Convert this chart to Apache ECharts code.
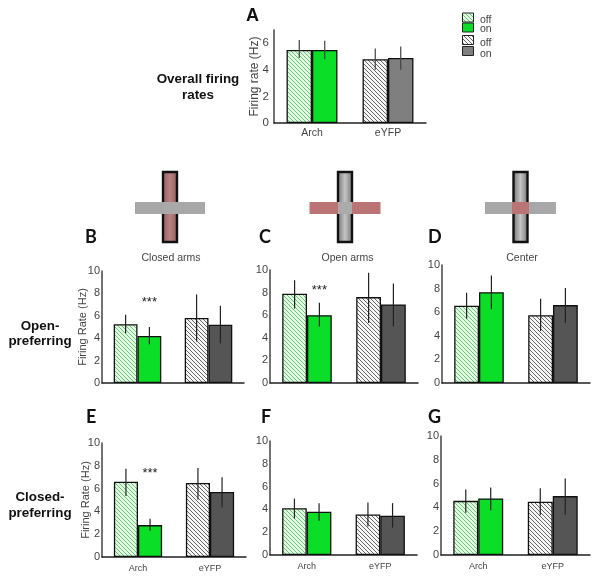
<!DOCTYPE html>
<html><head><meta charset="utf-8">
<style>html,body{margin:0;padding:0;background:#fff}#c{width:600px;height:581px}</style>
<script src="https://cdn.jsdelivr.net/npm/echarts@6/dist/echarts.min.js"></script>
</head><body><div id="c"></div>
<script>
const categories = ['Arch', 'eYFP'];
const yTicksA = [0, 2, 4, 6];
const yTicks = [0, 2, 4, 6, 8, 10];
// [Arch, eYFP] means and error ends, off/on
const A_off = [5.5, 4.8],  A_on = [5.5, 4.9];
const A_off_low = [4.9, 4.0], A_off_high = [6.25, 5.6];
const A_on_low = [4.8, 4.0],  A_on_high = [6.2, 5.75];
const B_off = [5.25, 5.8], B_on = [4.2, 5.2];
const B_off_low = [4.45, 3.7], B_off_high = [6.1, 7.9];
const B_on_low = [3.45, 3.55], B_on_high = [5.0, 6.9];
const C_off = [7.9, 7.6], C_on = [6.0, 6.95];
const C_off_low = [6.6, 5.3], C_off_high = [9.1, 9.75];
const C_on_low = [5.0, 5.0],  C_on_high = [7.1, 8.8];
const D_off = [6.55, 5.75], D_on = [7.7, 6.6];
const D_off_low = [5.45, 4.4], D_off_high = [7.65, 7.15];
const D_on_low = [6.25, 5.1],  D_on_high = [9.1, 8.05];
const E_off = [6.6, 6.5], E_on = [2.8, 5.7];
const E_off_low = [5.35, 5.05], E_off_high = [7.75, 7.8];
const E_on_low = [2.3, 4.35],   E_on_high = [3.35, 7.0];
const F_off = [4.1, 3.55], F_on = [3.8, 3.45];
const F_off_low = [3.2, 2.5], F_off_high = [4.95, 4.6];
const F_on_low = [3.0, 2.4],  F_on_high = [4.55, 4.55];
const G_off = [4.55, 4.47], G_on = [4.75, 4.95];
const G_off_low = [3.55, 3.35], G_off_high = [5.5, 5.6];
const G_on_low = [3.76, 3.4],   G_on_high = [5.67, 6.43];
const B_star = 7.2, C_star = 8.15, E_star = 7.35;

const GREEN = '#0ade27', DARK = '#555555', MID = '#7f7f7f';
const FONT = '"Liberation Sans", Arial, sans-serif';
const HEAD = 'Lato, sans-serif';

function hatch(bg, line) {
  const s = 4, cv = document.createElement('canvas');
  cv.width = s; cv.height = s;
  const g = cv.getContext('2d');
  g.fillStyle = bg; g.fillRect(0, 0, s, s);
  g.strokeStyle = line; g.lineWidth = 1;
  g.beginPath();
  g.moveTo(-1, -1); g.lineTo(s + 1, s + 1);
  g.moveTo(-1, s - 1); g.lineTo(1, s + 1);
  g.moveTo(s - 1, -1); g.lineTo(s + 1, 1);
  g.stroke();
  return { image: cv, repeat: 'repeat' };
}
const HG = hatch('#e2fae2', '#6cc47a');
const HK = hatch('#f6f6f6', '#666666');

const panels = [
  { g:[274,30,152,93],  max:7,  ticks:yTicksA, off:A_off, on:A_on, ol:A_off_low, oh:A_off_high, nl:A_on_low, nh:A_on_high, name:'Firing rate (Hz)', gap:19, x:10.5, lab:11.5, mg:5, dark:MID, err:'#444' },
  { g:[102,271,142,112], max:10, ticks:yTicks, off:B_off, on:B_on, ol:B_off_low, oh:B_off_high, nl:B_on_low, nh:B_on_high, name:'Firing Rate (Hz)', gap:19, x:0, star:B_star },
  { g:[270,270,148,113], max:10, ticks:yTicks, off:C_off, on:C_on, ol:C_off_low, oh:C_off_high, nl:C_on_low, nh:C_on_high, name:'', x:0, star:C_star },
  { g:[442,265,148,118], max:10, ticks:yTicks, off:D_off, on:D_on, ol:D_off_low, oh:D_off_high, nl:D_on_low, nh:D_on_high, name:'', x:0 },
  { g:[102,443,144,114], max:10, ticks:yTicks, off:E_off, on:E_on, ol:E_off_low, oh:E_off_high, nl:E_on_low, nh:E_on_high, name:'Firing Rate (Hz)', gap:16, x:9, star:E_star },
  { g:[270,441,147,114], max:10, ticks:yTicks, off:F_off, on:F_on, ol:F_off_low, oh:F_off_high, nl:F_on_low, nh:F_on_high, name:'', x:9 },
  { g:[441,436,149,119], max:10, ticks:yTicks, off:G_off, on:G_on, ol:G_off_low, oh:G_off_high, nl:G_on_low, nh:G_on_high, name:'', x:9 }
];

const grid = [], xAxis = [], yAxis = [], series = [];
panels.forEach((p, i) => {
  grid.push({ left:p.g[0], top:p.g[1], width:p.g[2], height:p.g[3] });
  xAxis.push({ type:'category', gridIndex:i, data:categories,
    axisTick:{show:false}, axisLine:{lineStyle:{color:'#222',width:1.5}},
    axisLabel:{show:p.x>0, fontFamily:FONT, fontSize:p.x||10, color:'#444', margin:p.x>10?5:7} });
  yAxis.push({ type:'value', gridIndex:i, min:0, max:p.max, interval:2, splitLine:{show:false},
    axisLine:{show:true,lineStyle:{color:'#444',width:1.5}}, axisTick:{show:false},
    axisLabel:{fontFamily:FONT, fontSize:p.lab||11, color:'#444', margin:p.mg||2, showMaxLabel:p.max===10,
      formatter:v=>p.ticks.includes(v)?String(v):''},
    name:p.name, nameLocation:'middle', nameGap:p.gap||19, nameMoveOverlap:false,
    nameTextStyle:{fontFamily:FONT, fontSize:i===0?12:11, color:'#444', verticalAlign:'middle'} });
  const bar = (off, data) => ({ type:'bar', xAxisIndex:i, yAxisIndex:i, data:data.map((v,c)=>({
      value:v,
      itemStyle:{ color: off ? (c===0?HG:HK) : (c===0?GREEN:(p.dark||DARK)), borderColor:'#111', borderWidth:1.3 }
    })), barWidth:'33.5%', barGap:0, silent:true });
  series.push(bar(true,p.off), bar(false,p.on));
  const rows = [];
  [0,1].forEach(c=>{ rows.push([c,-1,p.ol[c],p.oh[c]]); rows.push([c,1,p.nl[c],p.nh[c]]); });
  series.push({ type:'custom', xAxisIndex:i, yAxisIndex:i, silent:true, z:5, data:rows,
    renderItem:(params,api)=>{
      const c = api.value(0), side = api.value(1);
      const dx = api.size([1,0])[0]*0.1675*side;
      const a = api.coord([c,api.value(2)]), b = api.coord([c,api.value(3)]);
      return { type:'line', shape:{x1:a[0]+dx,y1:a[1],x2:a[0]+dx,y2:b[1]},
        style:{stroke:p.err||'#222',lineWidth:1.2} };
    }});
  if (p.star!==undefined) series.push({ type:'custom', xAxisIndex:i, yAxisIndex:i, silent:true, z:6, data:[[0,p.star]],
    renderItem:(params,api)=>{
      const q = api.coord([0,api.value(1)]), dx = api.size([1,0])[0]*0.1675;
      return { type:'text', style:{x:q[0]+dx,y:q[1],text:'***',fill:'#222',font:'13px '+FONT,align:'center',verticalAlign:'middle'} };
    }});
});

const t = (x,y,text,font,fill,align)=>({ type:'text', x, y, silent:true,
  style:{ text, font, fill:fill||'#333', align:align||'center', verticalAlign:'middle' } });
const rect = (x,y,w,h,fill,stroke,lw)=>({ type:'rect', silent:true, shape:{x,y,width:w,height:h},
  style:{ fill, stroke:stroke||null, lineWidth:lw||0 } });
const vgrad = (e,m)=>({type:'linear',x:0,y:0,x2:1,y2:0,colorStops:[{offset:0,color:e},{offset:.5,color:m},{offset:1,color:e}]});
const GR='#a8a8a8', RD='#bb7474';
const SIDE = 'bold 13.4px '+FONT;
const graphic = [
  // maze schematics
  rect(163,172,14,70,vgrad('#8c5a5a','#b98282'),'#111',2.4), rect(135,202,70,12,GR), rect(163,202,14,12,'#a9a9a9'),
  rect(338,172,14,70,vgrad('#6e6e6e','#c4c4c4'),'#111',2.4), rect(309.5,202,71,12,RD), rect(338,202,14,12,'#ababab'),
  rect(513.5,172,14,70,vgrad('#6e6e6e','#c4c4c4'),'#111',2.4), rect(485,202,71,12,GR), rect(512,202,17,12,RD),
  // headings
  t(246,16,'A','bold 18px '+FONT,'#111','left'),
  t(85,237,'B','bold 18px '+HEAD,'#111','left'), t(259,237,'C','bold 18px '+HEAD,'#111','left'), t(428,237,'D','bold 18px '+HEAD,'#111','left'),
  t(86,417,'E','bold 18px '+HEAD,'#111','left'), t(261,417,'F','bold 18px '+HEAD,'#111','left'), t(428,417,'G','bold 18px '+HEAD,'#111','left'),
  t(171,258,'Closed arms','10.5px '+FONT,'#444'), t(347.5,258,'Open arms','10.5px '+FONT,'#444'), t(522,258,'Center','10.5px '+FONT,'#444'),
  t(198,79,'Overall firing',SIDE,'#111'), t(198,95,'rates',SIDE,'#111'),
  t(40,326,'Open-',SIDE,'#111'), t(40,341,'preferring',SIDE,'#111'),
  t(40,497,'Closed-',SIDE,'#111'), t(40,513,'preferring',SIDE,'#111'),
  // legend
  rect(462.5,13,11,9,HG,'#222',1), rect(462.5,23,11,9,GREEN,'#222',1),
  rect(462.5,35.5,11,9,HK,'#222',1), rect(462.5,46.5,11,9,MID,'#222',1),
  t(480,20,'off','10.5px '+FONT,'#444','left'), t(480,29.5,'on','10.5px '+FONT,'#444','left'),
  t(480,43,'off','10.5px '+FONT,'#444','left'), t(480,54,'on','10.5px '+FONT,'#444','left')
];

const chart = echarts.init(document.getElementById('c'), null, {renderer:'canvas'});
chart.setOption({ animation:false, backgroundColor:'#fff', grid, xAxis, yAxis, series, graphic });
</script></body></html>
